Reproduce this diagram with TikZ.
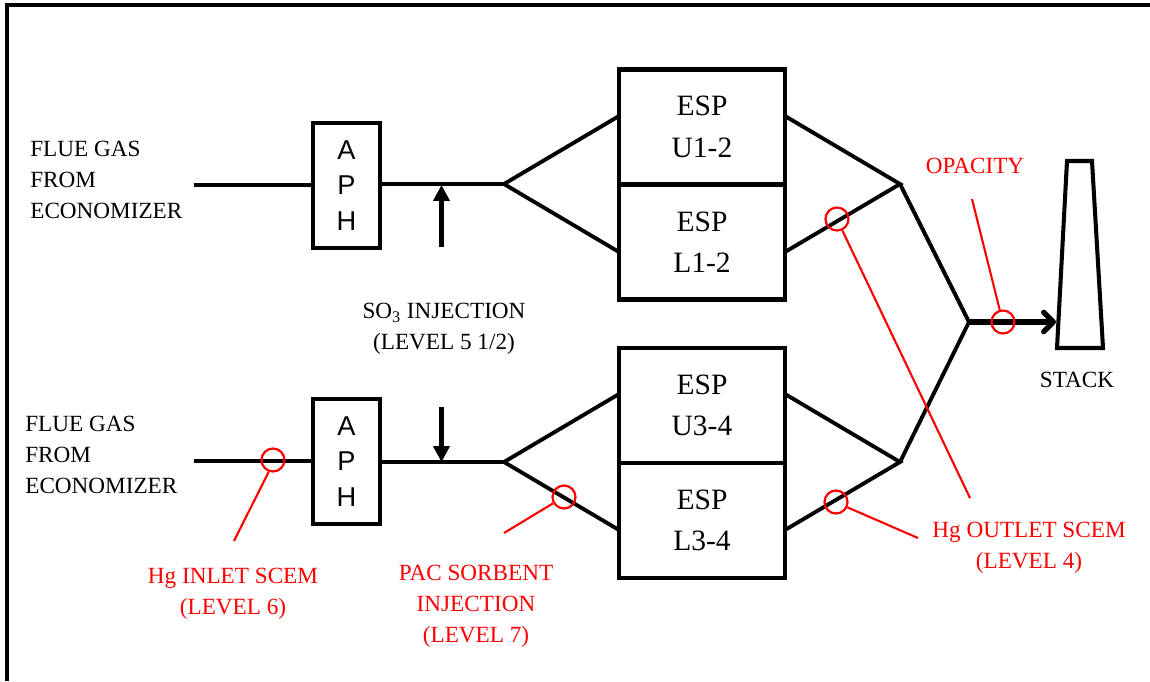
\documentclass[tikz,border=0pt]{standalone}
\usepackage{fontspec}
\setmainfont{Liberation Serif}
\setsansfont{Liberation Sans}
\usepackage{xcolor}
\usetikzlibrary{arrows.meta}

\tikzset{
  txt/.style={align=center, inner sep=0pt, font=\fontsize{13.2}{17.6}\selectfont},
  txtleft/.style={txt, align=left, anchor=west},
  redtxt/.style={txt, text=red},
  espbox/.style={draw, line width=2.7pt, minimum width=3.32cm, minimum height=2.3cm,
    inner sep=0pt, align=center, font=\fontsize{16.8}{23.6}\selectfont},
  aphbox/.style={draw, line width=2.3pt, minimum width=1.34cm, minimum height=2.5cm,
    inner sep=0pt, align=center, font=\sffamily\fontsize{15.5}{20}\selectfont},
  probe/.style={circle, draw=red, line width=1.25pt, minimum size=0.46cm, inner sep=0pt},
  duct/.style={line width=2.2pt},
  leader/.style={red, line width=1.2pt}
}

\begin{document}
\begin{tikzpicture}[x=0.02cm, y=-0.02cm]
\useasboundingbox (0,0) rectangle (1150,681);

% frame
\draw[line width=1.9pt] (7,681) -- (7,5) -- (1150,5);

% upper train
\node[espbox] (U12) at (702,127) {ESP\\U1-2};
\node[espbox] (L12) at (702,242) {ESP\\L1-2};
\node[aphbox] (APH1) at (346.5,185.5) {A\\P\\H};
\node[txtleft] (gas1) at (30,180) {FLUE GAS\\FROM\\ECONOMIZER};

\coordinate (in1) at (194,185);
\coordinate (split1) at (504,184);
\coordinate (U12a) at (619,116);
\coordinate (L12a) at (619,252);
\coordinate (U12b) at (785,116);
\coordinate (L12b) at (785,252);
\coordinate (merge1) at (900,184);

\draw[duct] (in1) -- (APH1.west |- in1);
\draw[duct] (APH1.east |- split1) -- (split1);
\draw[duct, line join=miter] (U12a) -- (split1) -- (L12a);
\draw[duct] (U12b) -- (merge1) -- (L12b);

% lower train
\node[espbox] (U34) at (702,405.5) {ESP\\U3-4};
\node[espbox] (L34) at (702,520.5) {ESP\\L3-4};
\node[aphbox] (APH2) at (346.5,461.5) {A\\P\\H};
\node[txtleft] (gas2) at (25,454.5) {FLUE GAS\\FROM\\ECONOMIZER};

\coordinate (in2) at (194,461);
\coordinate (split2) at (504,462);
\coordinate (U34a) at (619,394);
\coordinate (L34a) at (619,530);
\coordinate (U34b) at (785,394);
\coordinate (L34b) at (785,530);
\coordinate (merge2) at (900,462);

\draw[duct] (in2) -- (APH2.west |- in2);
\draw[duct] (APH2.east |- split2) -- (split2);
\draw[duct, line join=miter] (U34a) -- (split2) -- (L34a);
\draw[duct] (U34b) -- (merge2) -- (L34b);

% stack
\coordinate (join) at (969,322);
\coordinate (stackin) at (1056,322);
\draw[duct] (merge1) -- (join) -- (merge2);
\draw[line width=2.3pt, line join=miter] (1067,161) -- (1092,161) -- (1103,348) -- (1057,348) -- cycle;
\draw[line width=3pt, -{Straight Barb[length=5.5pt, width=11pt, round]}] (join) -- (stackin);
\node[txt] (stack) at (1077,380) {STACK};

% so3
\coordinate (so3a) at (441.5,247);
\coordinate (so3b) at (441.5,185);
\coordinate (pacA) at (441.5,407);
\coordinate (pacB) at (441.5,462);
\draw[line width=2.6pt, -{Triangle[length=9pt, width=9pt]}] (so3a) -- (so3b);
\draw[line width=2.6pt, -{Triangle[length=9pt, width=9pt]}] (pacA) -- (pacB);
\node[txt] (so3) at (444,329) {SO\textsubscript{3} INJECTION\\(LEVEL 5 1/2)};

% red probes
\node[probe] (inlet) at (273,460) {};
\node[probe] (pac) at (564,497) {};
\node[probe] (outU) at (837,219) {};
\node[probe] (outL) at (836,502) {};
\node[probe] (opac) at (1003,322) {};

\coordinate (inletEnd) at (234,541);
\coordinate (pacEnd) at (504,533);
\coordinate (outUEnd) at (970,498);
\coordinate (outLEnd) at (918,538);
\coordinate (opacEnd) at (972,199);

\draw[leader] (inlet.250) -- (inletEnd);
\draw[leader] (pac.210) -- (pacEnd);
\draw[leader] (outU.295) -- (outUEnd);
\draw[leader] (outL.335) -- (outLEnd);
\draw[leader] (opac.105) -- (opacEnd);

\node[redtxt] (inletTxt) at (233,593.5) {Hg INLET SCEM\\(LEVEL 6)};
\node[redtxt] (pacTxt) at (476,606) {PAC SORBENT\\INJECTION\\(LEVEL 7)};
\node[redtxt] (outTxt) at (1029,548) {Hg OUTLET SCEM\\(LEVEL 4)};
\node[redtxt] (opacTxt) at (975,166) {OPACITY};

\end{tikzpicture}
\end{document}
